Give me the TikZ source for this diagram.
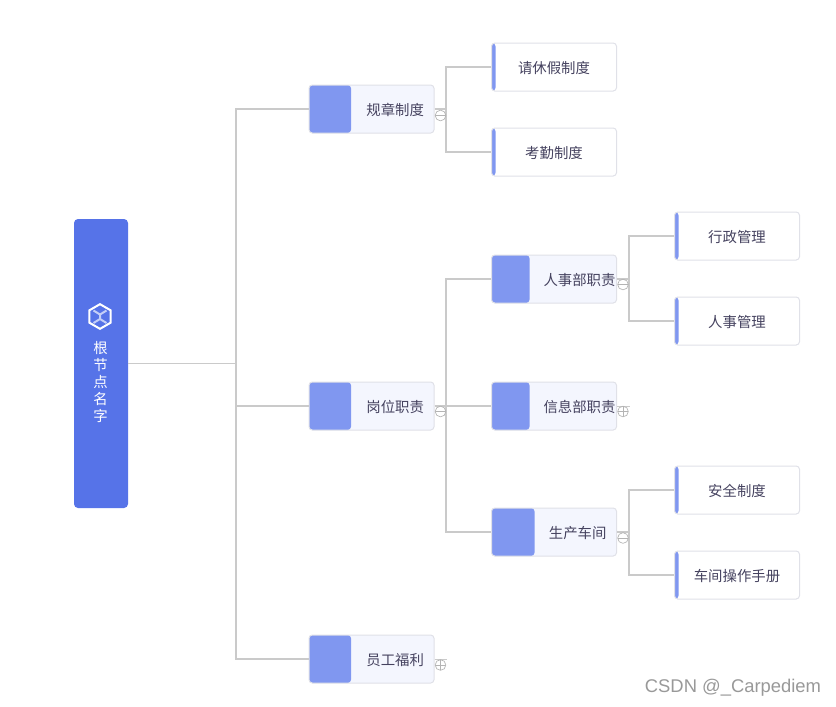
\documentclass[tikz,border=0pt]{standalone}
\usepackage{fontspec}
\setmainfont{Noto Sans CJK SC}
\newfontfamily\markfont{Liberation Sans}
\usetikzlibrary{arrows.meta,positioning,calc,shapes.geometric}
\definecolor{rootblue}{HTML}{5673E8}
\definecolor{swatchblue}{HTML}{8097F0}
\definecolor{palefill}{HTML}{F4F6FE}
\definecolor{edgegray}{HTML}{E0E1E8}
\definecolor{linegray}{HTML}{CACACA}
\definecolor{foldgray}{HTML}{B4B4B4}
\definecolor{inkgray}{HTML}{45425F}
\begin{document}
\begin{tikzpicture}[x=0.75pt,y=-0.75pt,font=\fontsize{10.8pt}{12.75pt}\selectfont,
   topic/.style 2 args={draw=edgegray,line width=0.75pt,fill=#2,rounded corners=2.5pt,text=inkgray,
     minimum height=36pt,inner xsep=7.5pt,text width=78.75pt,inner ysep=0pt,text height=9.5pt,text depth=0pt,
     path picture={\fill[swatchblue] (path picture bounding box.south west) rectangle ([xshift=#1]path picture bounding box.north west);}},
   branch/.style={topic={#1}{palefill},align=right},
   widebranch/.style={branch=#1,inner xsep=0.75pt,text width=92.25pt},
   leaf/.style={topic={3pt}{white},align=center},
   link/.style={draw=linegray,line width=1.5pt},
   thinlink/.style={draw=linegray,line width=0.75pt},
   fold/.style={circle,draw=foldgray,line width=0.5pt,minimum size=8pt,inner sep=0pt},
   foldminus/.style={fold,path picture={\draw[foldgray,line width=0.5pt] (path picture bounding box.west) -- (path picture bounding box.east);}},
   foldplus/.style={fold,path picture={\draw[foldgray,line width=0.5pt] (path picture bounding box.west) -- (path picture bounding box.east) (path picture bounding box.north) -- (path picture bounding box.south);}}]
  \useasboundingbox[fill=white] (0,0) rectangle (836,707);
  % root
  \node[fill=rootblue,rounded corners=3pt,minimum width=40.5pt,minimum height=216.75pt,inner sep=0pt] (root) at (101,363.5) {};
  \node[text=white,align=center,inner sep=0pt] (rootname) at (100.5,382) {根\\节\\点\\名\\字};
  \node[regular polygon,regular polygon sides=6,rotate=30,draw=white,line width=1.5pt,minimum size=18.5pt,inner sep=0pt] (rooticon) at (100,316.5) {};
  \draw[white!65!rootblue,line width=1.5pt] (93.5,310.5) -- (100,314.5) -- (106.5,310.5) (100,314.5) -- (100,319) (93.5,323) -- (100,319) -- (106.5,323);
  % first level
  \node[branch=31.5pt] (rules) at (371.5,109) {规章制度};
  \node[branch=31.5pt] (posts) at (371.5,406) {岗位职责};
  \node[branch=31.5pt] (welfare) at (371.5,659) {员工福利};
  % second level
  \node[leaf] (leave) at (554,67) {请休假制度};
  \node[leaf] (attend) at (554,152) {考勤制度};
  \node[widebranch=28.5pt] (hr) at (554,279) {人事部职责};
  \node[widebranch=28.5pt] (info) at (554,406) {信息部职责};
  \node[branch=32.25pt] (plant) at (554,532) {生产车间};
  % third level
  \node[leaf] (admin) at (737,236) {行政管理};
  \node[leaf] (staff) at (737,321) {人事管理};
  \node[leaf] (safety) at (737,490) {安全制度};
  \node[leaf] (manual) at (737,575) {车间操作手册};
  % forks
  \coordinate (rootfork) at (236,363.5);
  \coordinate (rulesfork) at (446,109);
  \coordinate (postsfork) at (446,406);
  \coordinate (hrfork) at (629,279);
  \coordinate (plantfork) at (629,532);
  \coordinate (infoend) at (630,406);
  \coordinate (welfareend) at (447,659);
  % connectors
  \draw[thinlink] (root.east |- rootfork) -- (rootfork);
  \draw[link] (rules.west) -| (rootfork) |- (welfare.west);
  \draw[link] (rootfork) |- (posts.west);
  \draw[link] (rules.east) -- (rulesfork);
  \draw[link] (leave.west) -| (rulesfork) |- (attend.west);
  \draw[link] (posts.east) -- (info.west);
  \draw[link] (hr.west) -| (postsfork) |- (plant.west);
  \draw[link] (hr.east) -- (hrfork);
  \draw[link] (admin.west) -| (hrfork) |- (staff.west);
  \draw[link] (plant.east) -- (plantfork);
  \draw[link] (safety.west) -| (plantfork) |- (manual.west);
  \draw[thinlink] (info.east) -- (infoend);
  \draw[thinlink] (welfare.east) -- (welfareend);
  % fold marks
  \node[foldminus] (rulesfold) at (440.5,115.5) {};
  \node[foldminus] (postsfold) at (440.5,411.5) {};
  \node[foldplus] (welfarefold) at (440.5,665) {};
  \node[foldminus] (hrfold) at (623,284.5) {};
  \node[foldplus] (infofold) at (623,411.5) {};
  \node[foldminus] (plantfold) at (623,538) {};
  % watermark
  \node[text=black!40,font=\fontsize{13.8pt}{15pt}\markfont,inner sep=0pt] (mark) at (733,688) {CSDN @\_Carpediem};
\end{tikzpicture}
\end{document}
